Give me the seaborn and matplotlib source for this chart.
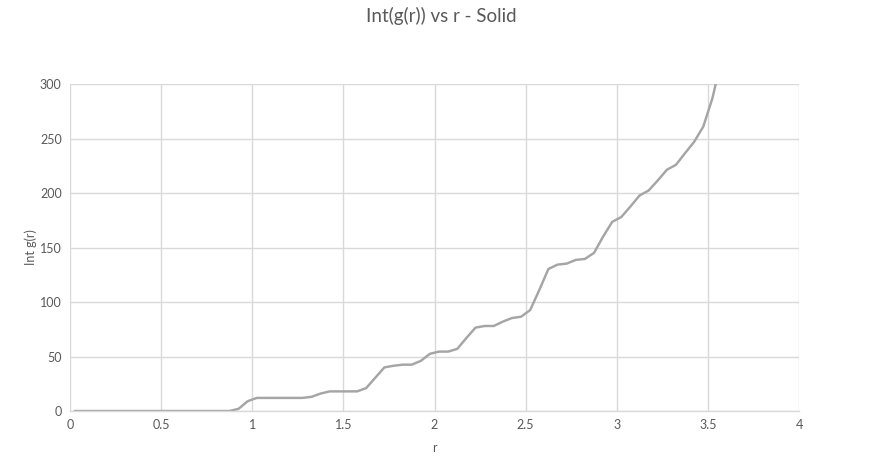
import numpy as np
import pandas as pd
import matplotlib
matplotlib.use("Agg")
import matplotlib.pyplot as plt
import seaborn as sns

# values
r_vals = [0.025, 0.075, 0.125, 0.175, 0.225, 0.275, 0.325, 0.375, 0.425, 0.475,
          0.525, 0.575, 0.625, 0.675, 0.725, 0.775, 0.825, 0.875, 0.925, 0.975,
          1.025, 1.075, 1.125, 1.175, 1.225, 1.275, 1.325, 1.375, 1.425, 1.475,
          1.525, 1.575, 1.625, 1.675, 1.725, 1.775, 1.825, 1.875, 1.925, 1.975,
          2.025, 2.075, 2.125, 2.175, 2.225, 2.275, 2.325, 2.375, 2.425, 2.475,
          2.525, 2.575, 2.625, 2.675, 2.725, 2.775, 2.825, 2.875, 2.925, 2.975,
          3.025, 3.075, 3.125, 3.175, 3.225, 3.275, 3.325, 3.375, 3.425, 3.475,
          3.525, 3.575]
int_g = [0, 0, 0, 0, 0, 0, 0, 0, 0, 0,
         0, 0, 0, 0, 0, 0, 0, 0, 2, 9,
         12, 12, 12, 12, 12, 12, 13, 16, 18, 18,
         18, 18, 21, 30.5, 40, 41.5, 42.5, 42.5, 46, 52.5,
         54.5, 54.5, 57, 67, 76.5, 78, 78, 82, 85.3, 86.5,
         92.6, 111, 130.3, 134.3, 135.2, 138.6, 139.5, 145, 160, 173.5,
         178, 187.6, 197.7, 202.3, 211.5, 221.3, 225.9, 236.6, 247, 261,
         287, 323]
x_ticks = [0, 0.5, 1, 1.5, 2, 2.5, 3, 3.5, 4]
x_tick_labels = ["0", "0.5", "1", "1.5", "2", "2.5", "3", "3.5", "4"]
y_ticks = [0, 50, 100, 150, 200, 250, 300]

df = pd.DataFrame({"r": r_vals, "int_g": int_g})

sns.set_style("white")
plt.rcParams["font.family"] = ["Lato", "DejaVu Sans"]

fig = plt.figure(figsize=(8.83, 4.71), dpi=100)
ax = fig.add_axes([70 / 883, 1 - 411 / 471, 729 / 883, 327 / 471])

sns.lineplot(data=df, x="r", y="int_g", ax=ax, color="#A5A5A5", linewidth=1.75)

ax.set_xlim(0, 4)
ax.set_ylim(0, 300)
ax.set_xticks(x_ticks)
ax.set_xticklabels(x_tick_labels)
ax.set_yticks(y_ticks)
ax.grid(True, color="#D9D9D9", linewidth=1.0)
ax.set_axisbelow(True)
for side in ["left", "right", "top"]:
    ax.spines[side].set_visible(False)
ax.spines["bottom"].set_color("#D9D9D9")
ax.spines["bottom"].set_linewidth(1.0)
ax.tick_params(axis="both", length=0, labelsize=9, labelcolor="#595959", pad=6)

ax.set_xlabel("r", fontsize=9, color="#595959", labelpad=8)
ax.set_ylabel("Int g(r)", fontsize=9, color="#595959")
ax.yaxis.set_label_coords(-0.0457, 0.5)
fig.suptitle("Int(g(r)) vs r - Solid", fontsize=13.5, color="#595959", y=0.985)

fig.savefig("out.png", dpi=100)
